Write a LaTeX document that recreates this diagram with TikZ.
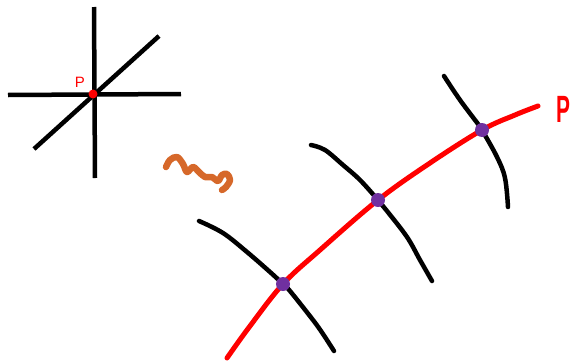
\documentclass[tikz,border=0pt]{standalone}
\usepackage{fontspec}
\setsansfont{Liberation Sans}
\definecolor{penorange}{RGB}{214,104,42}
\definecolor{penpurple}{RGB}{112,48,160}
\definecolor{penred}{RGB}{255,0,0}
\begin{document}
\begin{tikzpicture}[x=1pt,y=-1pt,
  blackstroke/.style={line width=4.5pt,line cap=round,line join=round,black},
  redstroke/.style={line width=5pt,line cap=round,line join=round,penred},
  orangestroke/.style={line width=6.5pt,line cap=round,line join=round,penorange},
  crossdot/.style={circle,fill=penpurple,inner sep=0pt,minimum size=14pt}]
\useasboundingbox (0,0) rectangle (571,362);
% top-left star of lines
\draw[blackstroke,line cap=butt] (94,7) -- (95,178);
\draw[blackstroke,line cap=butt] (8,95) -- (181,94);
\draw[blackstroke,line cap=butt] (34,149) -- (159,36);
\fill[penred] (93,94) circle (4.5pt);
\node[text=penred,font=\sffamily\fontsize{15}{15}\selectfont,anchor=base,inner sep=0pt] (plabel) at (80,87) {P};
% orange squiggle
\draw[orangestroke] plot[smooth,tension=0.6] coordinates {(166,167) (170,160) (177,157) (183,164) (187,172) (193,167) (199,172) (205,177) (212,177) (218,181) (222,175) (227,174) (230,180) (226,187) (222,190)};
% black curves
\draw[blackstroke] plot[smooth,tension=0.6] coordinates {(199,221) (223,233) (247,252) (270,272) (283,284) (290,291) (313,320) (323,334) (334,351)};
\draw[blackstroke] plot[smooth,tension=0.6] coordinates {(311,145) (325,150) (343,165) (360,180) (378,200) (387,211) (407,237) (420,260) (432,281)};
\draw[blackstroke] plot[smooth,tension=0.6] coordinates {(444,76) (460,100) (478,124) (482,130) (497,157) (505,178) (508,207)};
% red curve
\draw[redstroke] plot[smooth,tension=0.6] coordinates {(227,358) (250,326) (283,284) (320,250) (378,200) (430,163) (482,130) (515,115) (538,106)};
% intersection dots
\node[crossdot] (d1) at (283,284) {};
\node[crossdot] (d2) at (378,200) {};
\node[crossdot] (d3) at (482,130) {};
% big P
\node[text=penred,font=\sffamily\bfseries\fontsize{38}{38}\selectfont,anchor=base west,inner sep=0pt,xscale=0.55,transform shape] (bigp) at (556,122) {P};
\end{tikzpicture}
\end{document}
